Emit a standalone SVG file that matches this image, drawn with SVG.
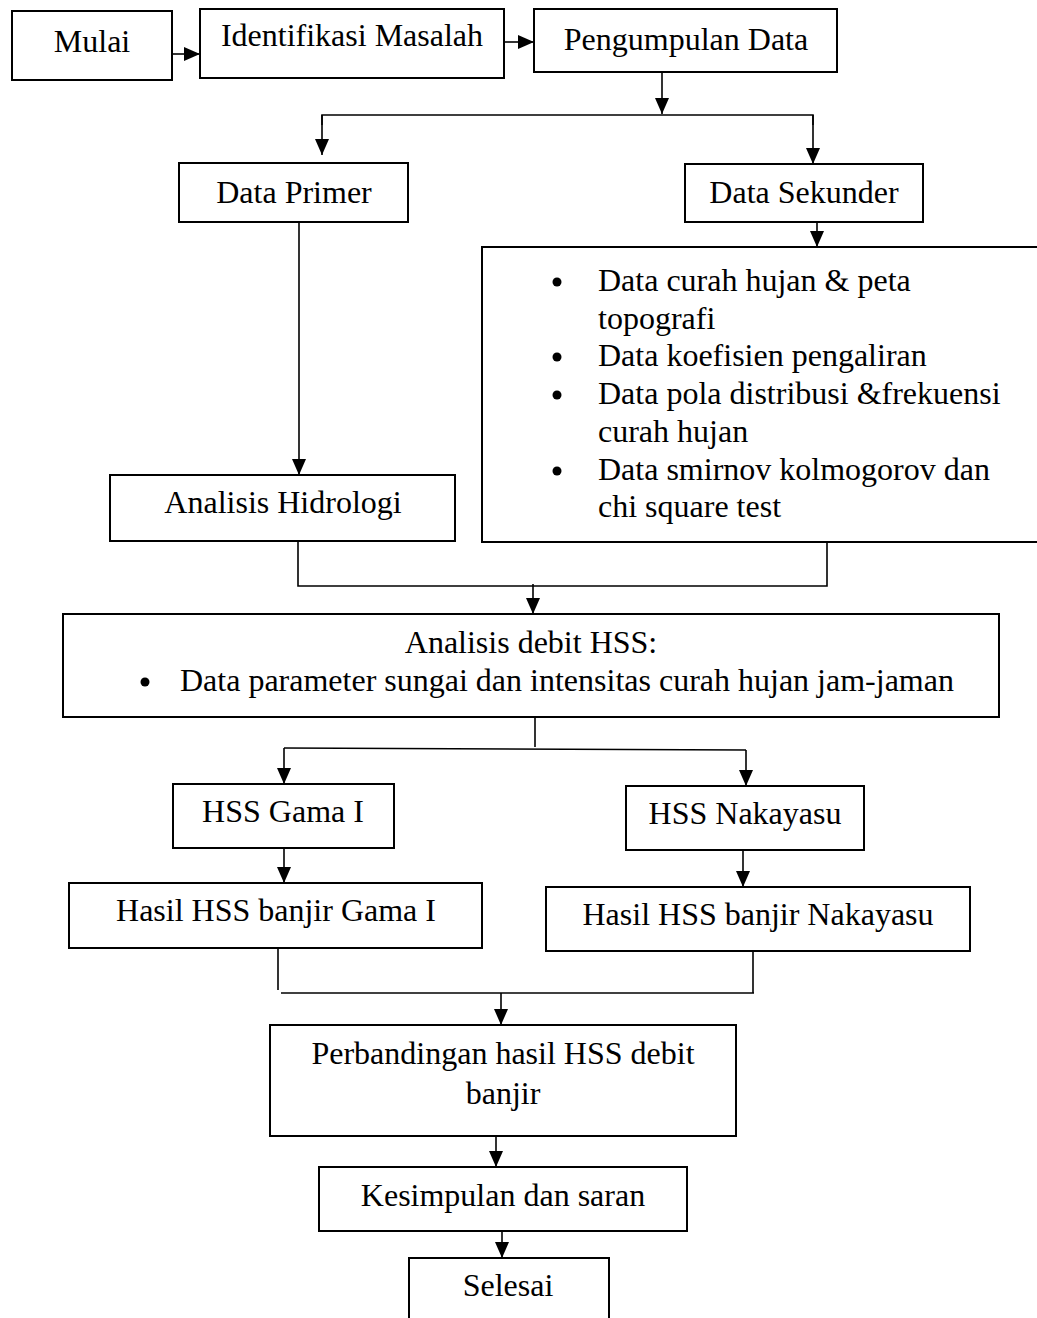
<svg xmlns="http://www.w3.org/2000/svg" width="1037" height="1318" viewBox="0 0 1037 1318">
<defs>
<marker id="ah" markerUnits="userSpaceOnUse" markerWidth="16" markerHeight="14" refX="16" refY="7" orient="auto">
<path d="M0,0 L16,7 L0,14 z" fill="#000"/>
</marker>
<style>
.box{fill:#fff;stroke:#000;stroke-width:2}
.t{font-family:"Liberation Serif","Times New Roman",serif;font-size:32px;fill:#000}
.c{text-anchor:middle}
.ln{fill:none;stroke:#000;stroke-width:1.6}
.ar{fill:none;stroke:#000;stroke-width:1.6;marker-end:url(#ah)}
</style>
</defs>
<rect width="1037" height="1318" fill="#fff"/>

<g id="connectors">
<line class="ar" x1="172" y1="54" x2="200" y2="54"/>
<line class="ar" x1="504" y1="42" x2="534" y2="42"/>
<line class="ar" x1="662" y1="72" x2="662" y2="114"/>
<polyline class="ln" points="322,125 322,115 813,115 813,125"/>
<line class="ar" x1="322" y1="115" x2="322" y2="155"/>
<line class="ar" x1="813" y1="115" x2="813" y2="164"/>
<line class="ar" x1="817" y1="222" x2="817" y2="247"/>
<line class="ar" x1="299" y1="222" x2="299" y2="475"/>
<polyline class="ln" points="298,541 298,586 827,586 827,542"/>
<line class="ar" x1="533" y1="584" x2="533" y2="614"/>
<line class="ln" x1="535" y1="717" x2="535" y2="747"/>
<line class="ln" x1="284" y1="748" x2="746" y2="750"/>
<line class="ar" x1="284" y1="748" x2="284" y2="784"/>
<line class="ar" x1="746" y1="750" x2="746" y2="786"/>
<line class="ar" x1="284" y1="848" x2="284" y2="883"/>
<line class="ar" x1="743" y1="850" x2="743" y2="887"/>
<line class="ln" x1="278" y1="948" x2="278" y2="990"/>
<line class="ln" x1="753" y1="951" x2="753" y2="993"/>
<line class="ln" x1="281" y1="993" x2="754" y2="993"/>
<line class="ar" x1="501" y1="993" x2="501" y2="1025"/>
<line class="ar" x1="496" y1="1136" x2="496" y2="1167"/>
<line class="ar" x1="502" y1="1231" x2="502" y2="1258"/>
</g>

<g id="mulai"><rect class="box" x="12" y="11" width="160" height="69"/><text class="t c" x="92" y="52">Mulai</text></g>
<g id="identifikasi"><rect class="box" x="200" y="9" width="304" height="69"/><text class="t c" x="352" y="46">Identifikasi Masalah</text></g>
<g id="pengumpulan"><rect class="box" x="534" y="9" width="303" height="63"/><text class="t c" x="686" y="50">Pengumpulan Data</text></g>
<g id="primer"><rect class="box" x="179" y="163" width="229" height="59"/><text class="t c" x="294" y="203">Data Primer</text></g>
<g id="sekunder"><rect class="box" x="685" y="164" width="238" height="58"/><text class="t c" x="804" y="203">Data Sekunder</text></g>
<g id="datalist">
<rect class="box" x="482" y="247" width="570" height="295"/>
<circle cx="557" cy="282" r="4.5"/>
<circle cx="557" cy="357" r="4.5"/>
<circle cx="557" cy="395" r="4.5"/>
<circle cx="557" cy="471" r="4.5"/>
<text class="t" x="598" y="291">Data curah hujan &amp; peta</text>
<text class="t" x="598" y="329">topografi</text>
<text class="t" x="598" y="366">Data koefisien pengaliran</text>
<text class="t" x="598" y="404">Data pola distribusi &amp;frekuensi</text>
<text class="t" x="598" y="442">curah hujan</text>
<text class="t" x="598" y="480">Data smirnov kolmogorov dan</text>
<text class="t" x="598" y="517">chi square test</text>
</g>
<g id="hidrologi"><rect class="box" x="110" y="475" width="345" height="66"/><text class="t c" x="283" y="513">Analisis Hidrologi</text></g>
<g id="debit">
<rect class="box" x="63" y="614" width="936" height="103"/>
<text class="t c" x="531" y="653">Analisis debit HSS:</text>
<circle cx="145" cy="682" r="4.5"/>
<text class="t" x="180" y="691">Data parameter sungai dan intensitas curah hujan jam-jaman</text>
</g>
<g id="gama"><rect class="box" x="173" y="784" width="221" height="64"/><text class="t c" x="283" y="822">HSS Gama I</text></g>
<g id="nakayasu"><rect class="box" x="626" y="786" width="238" height="64"/><text class="t c" x="745" y="824">HSS Nakayasu</text></g>
<g id="hasilgama"><rect class="box" x="69" y="883" width="413" height="65"/><text class="t c" x="276" y="921">Hasil HSS banjir Gama I</text></g>
<g id="hasilnakayasu"><rect class="box" x="546" y="887" width="424" height="64"/><text class="t c" x="758" y="925">Hasil HSS banjir Nakayasu</text></g>
<g id="perbandingan"><rect class="box" x="270" y="1025" width="466" height="111"/><text class="t c" x="503" y="1064">Perbandingan hasil HSS debit</text><text class="t c" x="503" y="1104">banjir</text></g>
<g id="kesimpulan"><rect class="box" x="319" y="1167" width="368" height="64"/><text class="t c" x="503" y="1206">Kesimpulan dan saran</text></g>
<g id="selesai"><rect class="box" x="409" y="1258" width="200" height="70"/><text class="t c" x="508" y="1296">Selesai</text></g>
</svg>
